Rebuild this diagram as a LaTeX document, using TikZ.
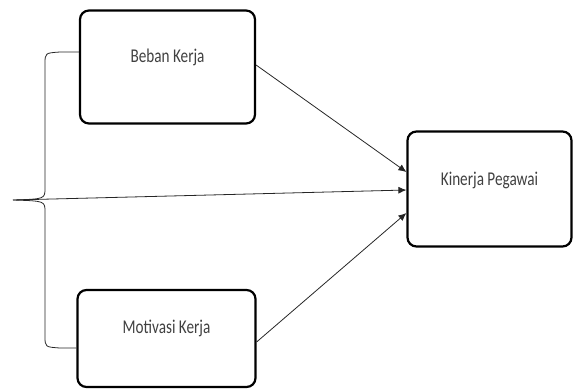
\documentclass[tikz,border=0pt]{standalone}
\usepackage{fontspec}
\setmainfont{Carlito}
\usetikzlibrary{arrows.meta}
\begin{document}
\begin{tikzpicture}[x=1pt,y=-1pt,
  box/.style={draw=black,line width=2.2pt,rounded corners=9pt,inner sep=0pt},
  txt/.style={text=black!75,font=\fontsize{19.5}{22}\selectfont,inner sep=0pt},
  conn/.style={line width=0.8pt,draw=black!85},
  arr/.style={conn,-{Latex[length=8pt,width=7pt]}}]
\useasboundingbox (0,0) rectangle (573,389);
\node[box,minimum width=175pt,minimum height=113pt] (b) at (167.5,67) {};
\node[box,minimum width=178pt,minimum height=97pt] (m) at (166.5,338.5) {};
\node[box,minimum width=164pt,minimum height=115pt] (k) at (489.5,189) {};
\node[txt] (bt) at ([yshift=10pt]b.center) {\scalebox{0.78}[1]{Beban Kerja}};
\node[txt] (mt) at ([yshift=10pt]m.center) {\scalebox{0.78}[1]{Motivasi Kerja}};
\node[txt] (kt) at ([yshift=9pt]k.center) {\scalebox{0.78}[1]{Kinerja Pegawai}};
\coordinate (tip) at (13,200);
\coordinate (bl) at (b.west |- 0,52);
\coordinate (ml) at (m.west |- 0,348);
\draw[conn] (bl) -- (60,52) .. controls (45,53) .. (45,64) -- (45,188)
  .. controls (45,199) .. (tip) .. controls (45,201) .. (45,212) -- (45,336)
  .. controls (45,347) .. (60,348) -- (ml);
\draw[arr] (b.east |- 0,65) -- ([yshift=17pt]k.west);
\draw[arr] (tip) -- ([yshift=-1pt]k.west);
\draw[arr] (m.east |- 0,342) -- ([yshift=-24pt]k.west);
\end{tikzpicture}
\end{document}
